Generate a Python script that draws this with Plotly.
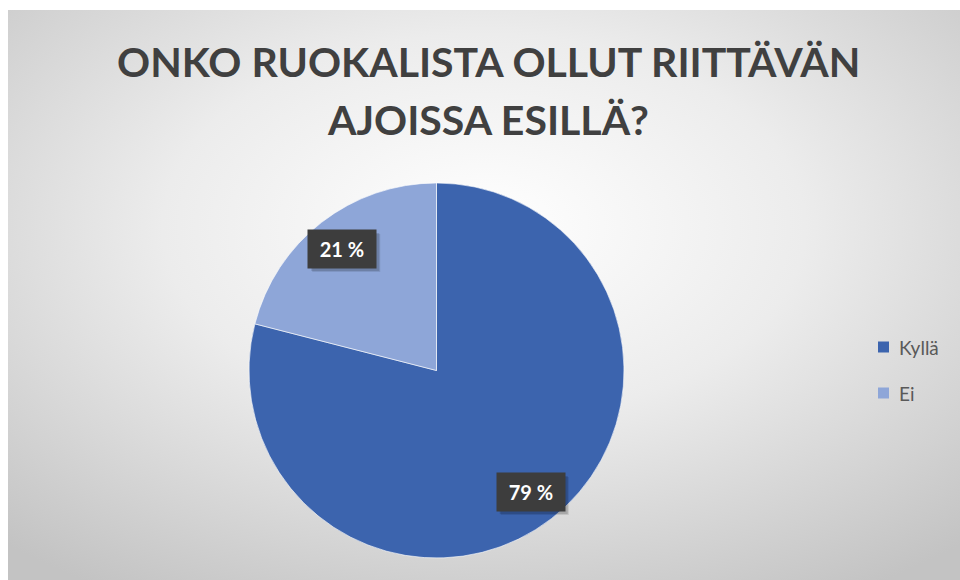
import math
import plotly.graph_objects as go

# Survey answers
categories = ["Kyllä", "Ei"]
shares = [79, 21]
colors = ["#3C64AE", "#8EA6D8"]
title_lines = ["ONKO RUOKALISTA OLLUT RIITTÄVÄN", "AJOISSA ESILLÄ?"]

W, H = 960, 580
cx, cy, r = 436.5, 370.5, 187.5  # pie centre and radius in pixels


def px(x):
    return x / W


def py(y):
    return 1 - y / H


fig = go.Figure()
fig.add_trace(go.Pie(
    labels=categories,
    values=shares,
    sort=False,
    direction="clockwise",
    rotation=0,
    marker=dict(colors=colors, line=dict(color="rgba(255,255,255,0.6)", width=1)),
    textinfo="none",
    hoverinfo="label+percent",
    showlegend=False,
    domain=dict(x=[px(cx - r), px(cx + r)], y=[py(cy + r), py(cy - r)]),
))

# Radial grey background of the chart area
svg = (
    "<svg xmlns='http://www.w3.org/2000/svg' width='952' height='570' viewBox='0 0 952 570' preserveAspectRatio='none'>"
    "<defs><radialGradient id='g' cx='50%' cy='38%' r='75%'>"
    "<stop offset='0' stop-color='#ffffff'/>"
    "<stop offset='0.45' stop-color='#ececec'/>"
    "<stop offset='1' stop-color='#c3c3c3'/>"
    "</radialGradient></defs>"
    "<rect width='952' height='570' fill='url(#g)'/></svg>"
)
svg_uri = "data:image/svg+xml;charset=utf-8," + svg.replace("#", "%23").replace("<", "%3C").replace(">", "%3E").replace("'", "%27").replace(" ", "%20")
fig.add_layout_image(dict(
    source=svg_uri, xref="paper", yref="paper",
    x=px(8), y=py(10), sizex=1 - px(8), sizey=py(10),
    xanchor="left", yanchor="top", sizing="stretch", layer="below",
))

# Percentage labels in dark boxes at each slice's mid-angle
total = sum(shares)
start = 0.0
bw, bh = 68, 38
for val in shares:
    mid = (start + val / 2) / total * 2 * math.pi
    start += val
    lx = cx + 0.82 * r * math.sin(mid)
    ly = cy - 0.82 * r * math.cos(mid)
    label = f"{round(val / total * 100)} %"
    # soft drop shadow behind the box
    for k, a in ((4, 0.10), (3, 0.14)):
        fig.add_shape(type="rect", xref="paper", yref="paper", layer="above",
                      x0=px(lx - bw / 2 + k), x1=px(lx + bw / 2 + k),
                      y0=py(ly + bh / 2 + k), y1=py(ly - bh / 2 + k),
                      fillcolor=f"rgba(0,0,0,{a})", line=dict(width=0))
    fig.add_annotation(
        x=px(lx), y=py(ly), xref="paper", yref="paper", text=f"<b>{label}</b>",
        xanchor="center", yanchor="middle",
        showarrow=False, font=dict(family="Lato", size=20, color="#ffffff"),
        bgcolor="#3d3d3d", width=bw - 14, height=bh - 14, borderpad=7,
    )

# Legend
for i, (name, col) in enumerate(zip(categories, colors)):
    yc = 347 + i * 46
    fig.add_shape(type="rect", xref="paper", yref="paper",
                  x0=px(878), x1=px(889), y0=py(yc + 5.5), y1=py(yc - 5.5),
                  fillcolor=col, line=dict(width=0))
    fig.add_annotation(x=px(897), y=py(yc), xref="paper", yref="paper",
                       text=name, showarrow=False, xanchor="left", yanchor="middle",
                       font=dict(family="Lato", size=19, color="#595959"))

# Title
for i, line in enumerate(title_lines):
    fig.add_annotation(x=px(488), y=py(61 + i * 58), xref="paper", yref="paper",
                       text=f"<b>{line}</b>", showarrow=False,
                       xanchor="center", yanchor="middle",
                       font=dict(family="Lato", size=41, color="#404040"))

fig.update_layout(
    width=W, height=H,
    margin=dict(l=0, r=0, t=0, b=0),
    paper_bgcolor="#ffffff",
    plot_bgcolor="#ffffff",
    showlegend=False,
)

fig.write_html("out.html")
